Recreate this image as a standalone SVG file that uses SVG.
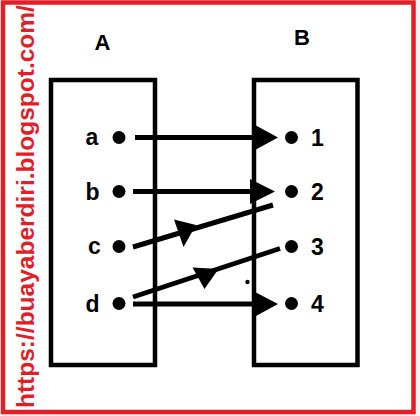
<svg xmlns="http://www.w3.org/2000/svg" width="420" height="416" viewBox="0 0 420 416">
<style>
.frame{fill:none;stroke:#e31e26;stroke-width:4.5}
.box{fill:none;stroke:#000;stroke-width:4.5}
.lbl{font-family:"Liberation Sans",Arial,sans-serif;font-weight:bold;fill:#000}
.set{font-size:22px;text-anchor:middle}
.el{font-size:23px}
.dot{fill:#000}
.ln{stroke:#000;stroke-width:5;fill:none}
.head{fill:#000}
.wm{font-family:"Liberation Sans",Arial,sans-serif;font-weight:bold;font-size:24.5px;fill:#e31e26}
</style>
<rect x="0" y="0" width="420" height="416" fill="#f2f2f2"/>
<rect x="0" y="0" width="414" height="413" fill="#fff"/>
<rect class="frame" x="3" y="2.5" width="410.5" height="409.5"/>
<text class="wm" transform="translate(33.5,408) rotate(-90)">https://buayaberdiri.blogspot.com/</text>

<g id="setA">
<rect class="box" x="51" y="80" width="104" height="285"/>
<text class="lbl set" x="102.5" y="50">A</text>
</g>
<g id="setB">
<rect class="box" x="254" y="80" width="103.5" height="285"/>
<text class="lbl set" x="302" y="45">B</text>
</g>

<g id="node-a"><circle class="dot" cx="119" cy="137.5" r="6.5"/><text class="lbl el" x="85.5" y="145">a</text></g>
<g id="node-b"><circle class="dot" cx="119" cy="191.5" r="6.5"/><text class="lbl el" x="85.5" y="199.5">b</text></g>
<g id="node-c"><circle class="dot" cx="119" cy="246.5" r="6.5"/><text class="lbl el" x="88" y="254">c</text></g>
<g id="node-d"><circle class="dot" cx="119" cy="303.5" r="6.5"/><text class="lbl el" x="85.5" y="311.5">d</text></g>

<g id="node-1"><circle class="dot" cx="291.5" cy="137.5" r="6.5"/><text class="lbl el" x="311" y="145.5">1</text></g>
<g id="node-2"><circle class="dot" cx="291.5" cy="191.5" r="6.5"/><text class="lbl el" x="311" y="199.5">2</text></g>
<g id="node-3"><circle class="dot" cx="291.5" cy="246.5" r="6.5"/><text class="lbl el" x="311" y="254.5">3</text></g>
<g id="node-4"><circle class="dot" cx="291.5" cy="303.5" r="6.5"/><text class="lbl el" x="311" y="311.5">4</text></g>

<g id="connectors">
<line class="ln" x1="135" y1="137.5" x2="258" y2="137.5"/>
<polygon class="head" points="255,125 278,137.5 255,150"/>
<line class="ln" x1="133" y1="191.5" x2="252" y2="191.5"/>
<polygon class="head" points="250,179 275,191.5 250,204"/>
<line class="ln" x1="133" y1="247" x2="273" y2="205"/>
<polygon class="head" points="174,219.5 196,225 183.5,247"/>
<line class="ln" x1="133" y1="297" x2="280" y2="248.5"/>
<polygon class="head" points="192.5,267.5 218.5,269 204.5,289"/>
<line class="ln" x1="133" y1="304" x2="258" y2="304"/>
<polygon class="head" points="255,292 278,304 255,316.5"/>
<circle class="dot" cx="247.5" cy="282" r="2.2"/>
</g>
</svg>
